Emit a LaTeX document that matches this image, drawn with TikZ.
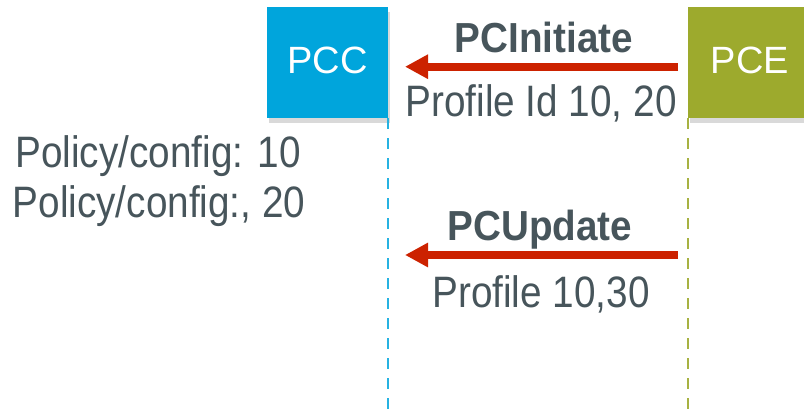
\documentclass[tikz,border=0pt]{standalone}
\usepackage{fontspec}
\setmainfont{Liberation Sans}
\newfontfamily\slidereg[FakeStretch=0.88]{Liberation Sans}
\newfontfamily\slidebold[FakeStretch=0.92]{Liberation Sans}
\usepackage{tikz}
\usetikzlibrary{arrows.meta,shadows}
\definecolor{pccblue}{HTML}{00A5DC}
\definecolor{pceolive}{HTML}{9DAA2D}
\definecolor{msgred}{HTML}{CC2200}
\definecolor{slidetext}{HTML}{47555B}
\colorlet{pccline}{pccblue!85!white}
\colorlet{pceline}{pceolive!90!white}
\tikzstyle{entity} = [
    rectangle,
    minimum width=121pt,
    minimum height=111pt,
    inner sep=0pt,
    text=white,
    font=\fontsize{38}{44}\selectfont,
    drop shadow={shadow xshift=2pt, shadow yshift=-5pt, opacity=.3}
    ]
\tikzstyle{lifeline} = [line width=2pt, dash pattern=on 11pt off 9pt]
\tikzstyle{msg} = [msgred, line width=8pt, -{Triangle[length=23pt,width=23pt]}]
\tikzstyle{msglabel} = [
    anchor=base,
    inner sep=0pt,
    text=slidetext,
    font=\slidereg\fontsize{44}{50}\selectfont
    ]
\tikzstyle{msgtitle} = [
    msglabel,
    font=\slidebold\bfseries\fontsize{42}{48}\selectfont
    ]

\begin{document}
\begin{tikzpicture}[x=1pt, y=-1pt]
\clip (0,0) rectangle (804,410);
% the two entities
\node[entity, fill=pccblue] (pcc) at (327.5,62.5) {\raisebox{5pt}{PCC}};
\node[entity, fill=pceolive, minimum width=124pt] (pce) at (750,62.5) {\raisebox{5pt}{PCE}};
% lifelines
\draw[lifeline, pccline] (pcc.south east) -- ++(0,292);
\draw[lifeline, pceline] (pce.south west) -- ++(0,292);
% PCInitiate
\coordinate (initfrom) at (678,66.7);
\coordinate (initto) at (405,66.7);
\draw[msg] (initfrom) -- (initto);
\node[msgtitle] (inittitle) at (544,52) {PCInitiate};
\node[msglabel] (initdata) at (541,116.5) {Profile Id 10, 20};
% PCUpdate
\coordinate (updfrom) at (678,255);
\coordinate (updto) at (405,255);
\draw[msg] (updfrom) -- (updto);
\node[msgtitle] (updtitle) at (540,240) {PCUpdate};
\node[msglabel] (upddata) at (541,307) {Profile 10,30};
% local policy at the PCC
\node[msglabel] (policya) at (158,167) {Policy/config: 10};
\node[msglabel] (policyb) at (159,217) {Policy/config:, 20};
\end{tikzpicture}
\end{document}
